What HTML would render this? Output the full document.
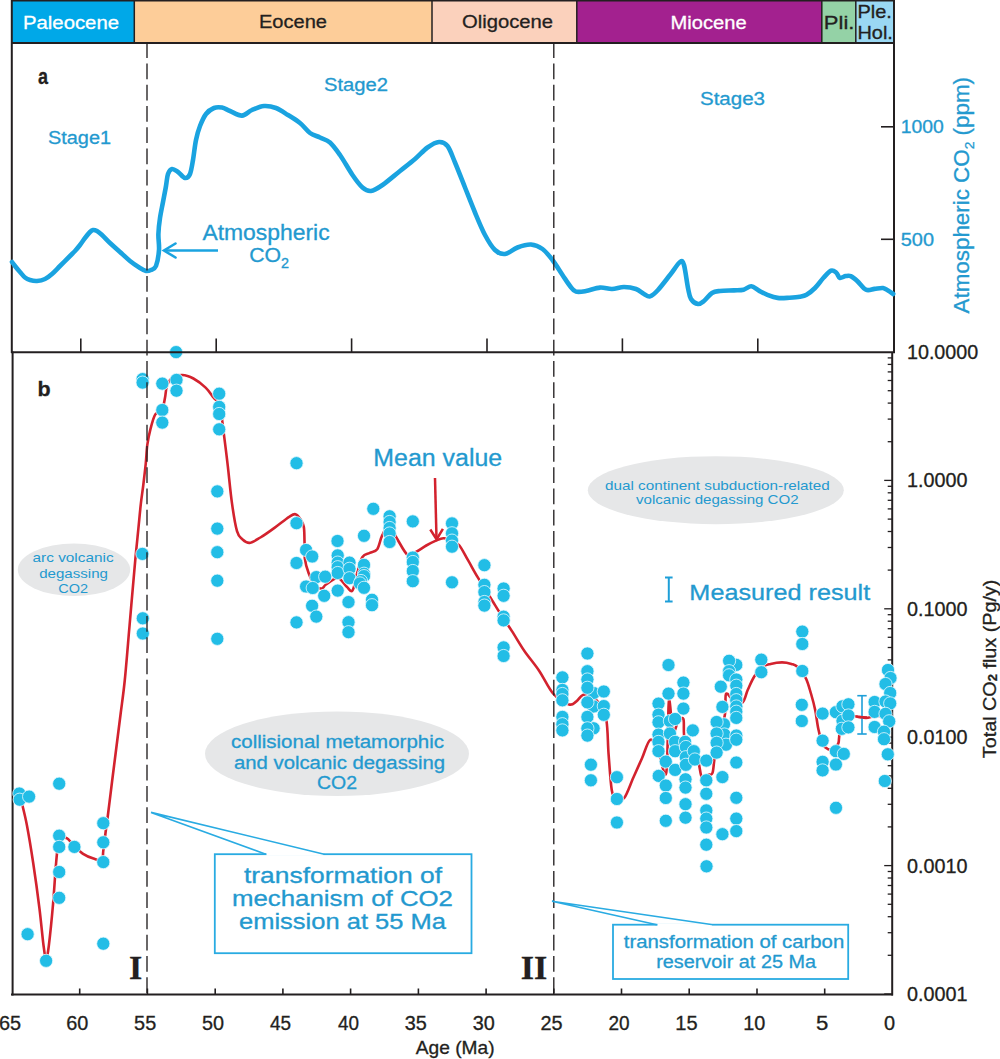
<!DOCTYPE html>
<html><head><meta charset="utf-8"><title>CO2 flux figure</title>
<style>html,body{margin:0;padding:0;background:#fff;overflow:hidden;}svg{display:block;}</style>
</head><body>
<svg width="1000" height="1059" viewBox="0 0 1000 1059">
<rect x="0" y="0" width="1000" height="1059" fill="#ffffff"/>
<rect x="11.5" y="0" width="122.8" height="43" fill="#00A8E8"/>
<rect x="134.3" y="0" width="297.7" height="43" fill="#FDCD99"/>
<rect x="432.0" y="0" width="144.8" height="43" fill="#FBD1BC"/>
<rect x="576.8" y="0" width="245.0" height="43" fill="#A3218F"/>
<rect x="821.8" y="0" width="34.0" height="43" fill="#94D2A6"/>
<rect x="855.8" y="0" width="38.2" height="43" fill="#9AD8F3"/>
<line x1="134.3" y1="0" x2="134.3" y2="43" stroke="#231F20" stroke-width="1.5"/>
<line x1="432.0" y1="0" x2="432.0" y2="43" stroke="#231F20" stroke-width="1.5"/>
<line x1="576.8" y1="0" x2="576.8" y2="43" stroke="#231F20" stroke-width="1.5"/>
<line x1="821.8" y1="0" x2="821.8" y2="43" stroke="#231F20" stroke-width="1.5"/>
<line x1="855.8" y1="0" x2="855.8" y2="43" stroke="#231F20" stroke-width="1.5"/>
<line x1="11" y1="0.6" x2="895" y2="0.6" stroke="#231F20" stroke-width="1.6"/>
<line x1="11" y1="43" x2="895" y2="43" stroke="#231F20" stroke-width="2"/>
<text x="22.98" y="28.50" font-size="19.10" fill="#FFFFFF" stroke="#FFFFFF" stroke-width="0.3" font-weight="normal" font-family="'Liberation Sans', Arial, Helvetica, sans-serif" textLength="96.04" lengthAdjust="spacingAndGlyphs">Paleocene</text>
<text x="258.97" y="28.20" font-size="19.10" fill="#231F20" stroke="#231F20" stroke-width="0.3" font-weight="normal" font-family="'Liberation Sans', Arial, Helvetica, sans-serif" textLength="68.06" lengthAdjust="spacingAndGlyphs">Eocene</text>
<text x="461.99" y="28.30" font-size="19.10" fill="#231F20" stroke="#231F20" stroke-width="0.3" font-weight="normal" font-family="'Liberation Sans', Arial, Helvetica, sans-serif" textLength="91.02" lengthAdjust="spacingAndGlyphs">Oligocene</text>
<text x="670.58" y="28.60" font-size="19.10" fill="#FFFFFF" stroke="#FFFFFF" stroke-width="0.3" font-weight="normal" font-family="'Liberation Sans', Arial, Helvetica, sans-serif" textLength="76.03" lengthAdjust="spacingAndGlyphs">Miocene</text>
<text x="823.81" y="28.70" font-size="18.80" fill="#231F20" stroke="#231F20" stroke-width="0.3" font-weight="normal" font-family="'Liberation Sans', Arial, Helvetica, sans-serif" textLength="30.61" lengthAdjust="spacingAndGlyphs">Pli.</text>
<text x="857.46" y="18.40" font-size="17.80" fill="#231F20" stroke="#231F20" stroke-width="0.3" font-weight="normal" font-family="'Liberation Sans', Arial, Helvetica, sans-serif" textLength="34.44" lengthAdjust="spacingAndGlyphs">Ple.</text>
<text x="857.46" y="39.40" font-size="17.80" fill="#231F20" stroke="#231F20" stroke-width="0.3" font-weight="normal" font-family="'Liberation Sans', Arial, Helvetica, sans-serif" textLength="35.43" lengthAdjust="spacingAndGlyphs">Hol.</text>
<line x1="11.8" y1="0" x2="11.8" y2="353" stroke="#231F20" stroke-width="2"/>
<line x1="12.6" y1="351.5" x2="12.6" y2="995.5" stroke="#231F20" stroke-width="2"/>
<line x1="894" y1="0" x2="894" y2="353" stroke="#231F20" stroke-width="2"/>
<line x1="80.8" y1="338.4" x2="80.8" y2="352" stroke="#231F20" stroke-width="1.6"/>
<line x1="216.2" y1="338.4" x2="216.2" y2="352" stroke="#231F20" stroke-width="1.6"/>
<line x1="351.6" y1="338.4" x2="351.6" y2="352" stroke="#231F20" stroke-width="1.6"/>
<line x1="487.0" y1="338.4" x2="487.0" y2="352" stroke="#231F20" stroke-width="1.6"/>
<line x1="622.4" y1="338.4" x2="622.4" y2="352" stroke="#231F20" stroke-width="1.6"/>
<line x1="757.8" y1="338.4" x2="757.8" y2="352" stroke="#231F20" stroke-width="1.6"/>
<line x1="881" y1="126.8" x2="894" y2="126.8" stroke="#231F20" stroke-width="1.6"/>
<line x1="881" y1="239.3" x2="894" y2="239.3" stroke="#231F20" stroke-width="1.6"/>
<text x="38.00" y="84.00" font-size="22.00" fill="#231F20" stroke="#231F20" stroke-width="0.3" font-weight="bold" font-family="'Liberation Sans', Arial, Helvetica, sans-serif" textLength="10.00" lengthAdjust="spacingAndGlyphs">a</text>
<text x="47.96" y="143.80" font-size="18.70" fill="#2399CF" stroke="#2399CF" stroke-width="0.3" font-weight="normal" font-family="'Liberation Sans', Arial, Helvetica, sans-serif" textLength="63.08" lengthAdjust="spacingAndGlyphs">Stage1</text>
<text x="323.98" y="90.50" font-size="18.70" fill="#2399CF" stroke="#2399CF" stroke-width="0.3" font-weight="normal" font-family="'Liberation Sans', Arial, Helvetica, sans-serif" textLength="64.04" lengthAdjust="spacingAndGlyphs">Stage2</text>
<text x="699.97" y="104.50" font-size="18.70" fill="#2399CF" stroke="#2399CF" stroke-width="0.3" font-weight="normal" font-family="'Liberation Sans', Arial, Helvetica, sans-serif" textLength="65.07" lengthAdjust="spacingAndGlyphs">Stage3</text>
<text x="900.76" y="133.40" font-size="18.30" fill="#2399CF" stroke="#2399CF" stroke-width="0.3" font-weight="normal" font-family="'Liberation Sans', Arial, Helvetica, sans-serif" textLength="43.07" lengthAdjust="spacingAndGlyphs">1000</text>
<text x="900.79" y="245.80" font-size="18.30" fill="#2399CF" stroke="#2399CF" stroke-width="0.3" font-weight="normal" font-family="'Liberation Sans', Arial, Helvetica, sans-serif" textLength="33.25" lengthAdjust="spacingAndGlyphs">500</text>
<g transform="rotate(-90)"><text x="-313.40" y="969.00" font-size="21.50" fill="#2399CF" stroke="#2399CF" stroke-width="0.3" font-weight="normal" font-family="'Liberation Sans', Arial, Helvetica, sans-serif" textLength="236.41" lengthAdjust="spacingAndGlyphs">Atmospheric CO<tspan font-size="0.62em" dy="4.5">2</tspan><tspan dy="-4.5"> (ppm)</tspan></text></g>
<path d="M12.0,262.0 C12.5,262.7 13.7,264.3 15.0,266.0 C16.3,267.7 18.3,270.1 20.0,272.0 C21.7,273.9 23.3,276.2 25.0,277.5 C26.7,278.8 28.0,279.4 30.0,280.0 C32.0,280.6 34.5,281.2 37.0,281.0 C39.5,280.8 42.5,280.2 45.0,279.0 C47.5,277.8 49.5,276.2 52.0,274.0 C54.5,271.8 57.0,269.0 60.0,266.0 C63.0,263.0 67.5,258.5 70.0,256.0 C72.5,253.5 73.3,252.8 75.0,251.0 C76.7,249.2 78.3,247.2 80.0,245.0 C81.7,242.8 83.3,240.2 85.0,238.0 C86.7,235.8 88.7,233.3 90.0,232.0 C91.3,230.7 91.8,230.2 93.0,230.0 C94.2,229.8 95.5,230.2 97.0,231.0 C98.5,231.8 99.8,233.0 102.0,235.0 C104.2,237.0 107.0,240.2 110.0,243.0 C113.0,245.8 116.7,249.0 120.0,252.0 C123.3,255.0 126.7,258.3 130.0,261.0 C133.3,263.7 137.3,266.3 140.0,268.0 C142.7,269.7 144.2,270.7 146.0,271.0 C147.8,271.3 149.3,270.8 151.0,270.0 C152.7,269.2 154.7,269.3 156.0,266.0 C157.3,262.7 158.6,255.3 159.0,250.0 C159.4,244.7 158.2,239.3 158.4,234.0 C158.6,228.7 159.2,223.3 160.0,218.0 C160.8,212.7 162.0,207.3 163.0,202.0 C164.0,196.7 165.2,190.7 166.0,186.0 C166.8,181.3 167.0,176.8 168.0,174.0 C169.0,171.2 170.3,169.3 172.0,169.0 C173.7,168.7 175.8,170.5 178.0,172.0 C180.2,173.5 183.0,177.7 185.0,178.0 C187.0,178.3 188.7,177.0 190.0,174.0 C191.3,171.0 192.0,165.7 193.0,160.0 C194.0,154.3 194.8,145.7 196.0,140.0 C197.2,134.3 198.3,130.3 200.0,126.0 C201.7,121.7 203.7,117.0 206.0,114.0 C208.3,111.0 211.3,109.1 214.0,108.0 C216.7,106.9 219.3,107.1 222.0,107.6 C224.7,108.1 226.7,109.7 230.0,111.0 C233.3,112.3 238.3,115.8 242.0,115.6 C245.7,115.4 248.3,111.6 252.0,110.0 C255.7,108.4 260.0,106.3 264.0,106.0 C268.0,105.7 272.0,106.5 276.0,108.0 C280.0,109.5 284.0,112.5 288.0,115.0 C292.0,117.5 296.3,120.0 300.0,123.0 C303.7,126.0 306.7,130.6 310.0,133.0 C313.3,135.4 316.7,135.9 320.0,137.5 C323.3,139.1 326.7,139.6 330.0,142.5 C333.3,145.4 336.2,149.6 340.0,155.0 C343.8,160.4 348.8,169.6 352.5,175.0 C356.2,180.4 359.4,184.8 362.5,187.5 C365.6,190.2 367.7,191.4 371.0,191.0 C374.3,190.6 377.7,188.3 382.5,185.0 C387.3,181.7 394.6,175.3 400.0,171.0 C405.4,166.7 410.4,162.9 415.0,159.0 C419.6,155.1 423.5,150.3 427.5,147.5 C431.5,144.7 435.7,142.2 439.0,142.0 C442.3,141.8 444.8,142.6 447.5,146.0 C450.2,149.4 452.1,155.6 455.0,162.5 C457.9,169.4 461.7,179.2 465.0,187.5 C468.3,195.8 471.7,204.6 475.0,212.5 C478.3,220.4 481.7,228.8 485.0,235.0 C488.3,241.2 491.7,246.8 495.0,250.0 C498.3,253.2 501.2,254.4 505.0,254.0 C508.8,253.6 513.2,249.1 517.5,247.5 C521.8,245.9 526.8,244.2 531.0,244.5 C535.2,244.8 538.9,246.4 542.5,249.0 C546.1,251.6 549.2,255.7 552.5,260.0 C555.8,264.3 559.6,270.7 562.5,275.0 C565.4,279.3 567.8,283.2 570.0,286.0 C572.2,288.8 573.3,290.8 576.0,291.6 C578.7,292.4 582.0,291.7 586.0,291.0 C590.0,290.3 595.7,287.9 600.0,287.6 C604.3,287.3 608.0,289.1 612.0,289.0 C616.0,288.9 620.0,287.0 624.0,287.0 C628.0,287.0 632.7,287.8 636.0,289.0 C639.3,290.2 641.7,292.8 644.0,294.0 C646.3,295.2 647.7,297.1 650.0,296.4 C652.3,295.7 654.7,293.6 658.0,290.0 C661.3,286.4 666.3,279.7 670.0,275.0 C673.7,270.3 677.7,263.7 680.0,262.0 C682.3,260.3 682.7,260.7 684.0,265.0 C685.3,269.3 686.8,282.3 688.0,288.0 C689.2,293.7 689.3,296.3 691.0,299.0 C692.7,301.7 695.8,303.7 698.0,304.0 C700.2,304.3 701.7,302.8 704.0,301.0 C706.3,299.2 709.3,294.7 712.0,293.0 C714.7,291.3 716.3,291.4 720.0,291.0 C723.7,290.6 730.1,290.6 734.0,290.4 C737.9,290.2 740.7,290.4 743.6,289.7 C746.5,289.0 748.8,286.1 751.3,286.3 C753.8,286.5 756.2,289.2 758.9,290.6 C761.6,292.0 764.3,293.6 767.4,294.8 C770.5,296.0 773.9,297.4 777.6,297.9 C781.3,298.4 785.8,297.9 789.5,297.7 C793.2,297.5 796.9,297.3 799.7,296.8 C802.5,296.3 804.0,296.3 806.5,294.8 C809.0,293.3 812.2,290.8 815.0,288.0 C817.8,285.2 820.8,280.7 823.5,277.8 C826.2,274.9 828.9,271.6 831.0,270.7 C833.1,269.8 834.8,271.5 836.3,272.7 C837.8,273.9 838.2,277.2 839.7,277.8 C841.2,278.4 843.8,276.4 845.6,276.1 C847.4,275.8 848.7,275.2 850.7,276.1 C852.7,277.0 855.0,278.9 857.5,281.2 C860.0,283.5 863.2,288.4 866.0,289.7 C868.8,291.0 871.7,289.2 874.5,288.9 C877.3,288.6 880.8,287.7 883.0,288.0 C885.2,288.3 886.3,289.6 888.0,290.6 C889.7,291.6 892.3,293.4 893.2,294.0" fill="none" stroke="#1AA3E0" stroke-width="4.6" stroke-linejoin="round" stroke-linecap="round"/>
<line x1="164" y1="250.5" x2="218" y2="250.5" stroke="#1AA3E0" stroke-width="2.6"/>
<polyline points="175.5,243.5 164,250.5 175.5,257.5" fill="none" stroke="#1AA3E0" stroke-width="2.6" stroke-linecap="round" stroke-linejoin="miter"/>
<text x="202.40" y="239.50" font-size="21.40" fill="#2399CF" stroke="#2399CF" stroke-width="0.3" font-weight="normal" font-family="'Liberation Sans', Arial, Helvetica, sans-serif" textLength="127.20" lengthAdjust="spacingAndGlyphs">Atmospheric</text>
<text x="249.15" y="262.30" font-size="21.00" fill="#2399CF" stroke="#2399CF" stroke-width="0.3" font-weight="normal" font-family="'Liberation Sans', Arial, Helvetica, sans-serif" textLength="39.88" lengthAdjust="spacingAndGlyphs">CO<tspan font-size="0.68em" dy="5.6">2</tspan></text>
<line x1="11" y1="994.5" x2="893" y2="994.5" stroke="#231F20" stroke-width="2.2"/>
<line x1="892.2" y1="352" x2="892.2" y2="995.5" stroke="#231F20" stroke-width="2"/>
<line x1="79.7" y1="988.5" x2="79.7" y2="994" stroke="#231F20" stroke-width="1.6"/>
<line x1="147.4" y1="988.5" x2="147.4" y2="994" stroke="#231F20" stroke-width="1.6"/>
<line x1="215.2" y1="988.5" x2="215.2" y2="994" stroke="#231F20" stroke-width="1.6"/>
<line x1="282.9" y1="988.5" x2="282.9" y2="994" stroke="#231F20" stroke-width="1.6"/>
<line x1="350.6" y1="988.5" x2="350.6" y2="994" stroke="#231F20" stroke-width="1.6"/>
<line x1="418.4" y1="988.5" x2="418.4" y2="994" stroke="#231F20" stroke-width="1.6"/>
<line x1="486.1" y1="988.5" x2="486.1" y2="994" stroke="#231F20" stroke-width="1.6"/>
<line x1="553.8" y1="988.5" x2="553.8" y2="994" stroke="#231F20" stroke-width="1.6"/>
<line x1="621.5" y1="988.5" x2="621.5" y2="994" stroke="#231F20" stroke-width="1.6"/>
<line x1="689.2" y1="988.5" x2="689.2" y2="994" stroke="#231F20" stroke-width="1.6"/>
<line x1="757.0" y1="988.5" x2="757.0" y2="994" stroke="#231F20" stroke-width="1.6"/>
<line x1="824.7" y1="988.5" x2="824.7" y2="994" stroke="#231F20" stroke-width="1.6"/>
<line x1="884.2" y1="994.0" x2="892.2" y2="994.0" stroke="#231F20" stroke-width="1.3"/>
<line x1="887.7" y1="955.3" x2="892.2" y2="955.3" stroke="#231F20" stroke-width="1.3"/>
<line x1="887.7" y1="932.7" x2="892.2" y2="932.7" stroke="#231F20" stroke-width="1.3"/>
<line x1="887.7" y1="916.7" x2="892.2" y2="916.7" stroke="#231F20" stroke-width="1.3"/>
<line x1="887.7" y1="904.3" x2="892.2" y2="904.3" stroke="#231F20" stroke-width="1.3"/>
<line x1="887.7" y1="894.1" x2="892.2" y2="894.1" stroke="#231F20" stroke-width="1.3"/>
<line x1="887.7" y1="885.5" x2="892.2" y2="885.5" stroke="#231F20" stroke-width="1.3"/>
<line x1="887.7" y1="878.0" x2="892.2" y2="878.0" stroke="#231F20" stroke-width="1.3"/>
<line x1="887.7" y1="871.5" x2="892.2" y2="871.5" stroke="#231F20" stroke-width="1.3"/>
<line x1="884.2" y1="865.6" x2="892.2" y2="865.6" stroke="#231F20" stroke-width="1.3"/>
<line x1="887.7" y1="826.9" x2="892.2" y2="826.9" stroke="#231F20" stroke-width="1.3"/>
<line x1="887.7" y1="804.3" x2="892.2" y2="804.3" stroke="#231F20" stroke-width="1.3"/>
<line x1="887.7" y1="788.3" x2="892.2" y2="788.3" stroke="#231F20" stroke-width="1.3"/>
<line x1="887.7" y1="775.9" x2="892.2" y2="775.9" stroke="#231F20" stroke-width="1.3"/>
<line x1="887.7" y1="765.7" x2="892.2" y2="765.7" stroke="#231F20" stroke-width="1.3"/>
<line x1="887.7" y1="757.1" x2="892.2" y2="757.1" stroke="#231F20" stroke-width="1.3"/>
<line x1="887.7" y1="749.6" x2="892.2" y2="749.6" stroke="#231F20" stroke-width="1.3"/>
<line x1="887.7" y1="743.1" x2="892.2" y2="743.1" stroke="#231F20" stroke-width="1.3"/>
<line x1="884.2" y1="737.2" x2="892.2" y2="737.2" stroke="#231F20" stroke-width="1.3"/>
<line x1="887.7" y1="698.5" x2="892.2" y2="698.5" stroke="#231F20" stroke-width="1.3"/>
<line x1="887.7" y1="675.9" x2="892.2" y2="675.9" stroke="#231F20" stroke-width="1.3"/>
<line x1="887.7" y1="659.9" x2="892.2" y2="659.9" stroke="#231F20" stroke-width="1.3"/>
<line x1="887.7" y1="647.5" x2="892.2" y2="647.5" stroke="#231F20" stroke-width="1.3"/>
<line x1="887.7" y1="637.3" x2="892.2" y2="637.3" stroke="#231F20" stroke-width="1.3"/>
<line x1="887.7" y1="628.7" x2="892.2" y2="628.7" stroke="#231F20" stroke-width="1.3"/>
<line x1="887.7" y1="621.2" x2="892.2" y2="621.2" stroke="#231F20" stroke-width="1.3"/>
<line x1="887.7" y1="614.7" x2="892.2" y2="614.7" stroke="#231F20" stroke-width="1.3"/>
<line x1="884.2" y1="608.8" x2="892.2" y2="608.8" stroke="#231F20" stroke-width="1.3"/>
<line x1="887.7" y1="570.1" x2="892.2" y2="570.1" stroke="#231F20" stroke-width="1.3"/>
<line x1="887.7" y1="547.5" x2="892.2" y2="547.5" stroke="#231F20" stroke-width="1.3"/>
<line x1="887.7" y1="531.5" x2="892.2" y2="531.5" stroke="#231F20" stroke-width="1.3"/>
<line x1="887.7" y1="519.1" x2="892.2" y2="519.1" stroke="#231F20" stroke-width="1.3"/>
<line x1="887.7" y1="508.9" x2="892.2" y2="508.9" stroke="#231F20" stroke-width="1.3"/>
<line x1="887.7" y1="500.3" x2="892.2" y2="500.3" stroke="#231F20" stroke-width="1.3"/>
<line x1="887.7" y1="492.8" x2="892.2" y2="492.8" stroke="#231F20" stroke-width="1.3"/>
<line x1="887.7" y1="486.3" x2="892.2" y2="486.3" stroke="#231F20" stroke-width="1.3"/>
<line x1="884.2" y1="480.4" x2="892.2" y2="480.4" stroke="#231F20" stroke-width="1.3"/>
<line x1="887.7" y1="441.7" x2="892.2" y2="441.7" stroke="#231F20" stroke-width="1.3"/>
<line x1="887.7" y1="419.1" x2="892.2" y2="419.1" stroke="#231F20" stroke-width="1.3"/>
<line x1="887.7" y1="403.1" x2="892.2" y2="403.1" stroke="#231F20" stroke-width="1.3"/>
<line x1="887.7" y1="390.7" x2="892.2" y2="390.7" stroke="#231F20" stroke-width="1.3"/>
<line x1="887.7" y1="380.5" x2="892.2" y2="380.5" stroke="#231F20" stroke-width="1.3"/>
<line x1="887.7" y1="371.9" x2="892.2" y2="371.9" stroke="#231F20" stroke-width="1.3"/>
<line x1="887.7" y1="364.4" x2="892.2" y2="364.4" stroke="#231F20" stroke-width="1.3"/>
<line x1="887.7" y1="357.9" x2="892.2" y2="357.9" stroke="#231F20" stroke-width="1.3"/>
<text x="-1.07" y="1030.30" font-size="19.30" fill="#231F20" stroke="#231F20" stroke-width="0.3" font-weight="normal" font-family="'Liberation Sans', Arial, Helvetica, sans-serif" textLength="22.13" lengthAdjust="spacingAndGlyphs">65</text>
<text x="66.23" y="1030.30" font-size="19.30" fill="#231F20" stroke="#231F20" stroke-width="0.3" font-weight="normal" font-family="'Liberation Sans', Arial, Helvetica, sans-serif" textLength="22.13" lengthAdjust="spacingAndGlyphs">60</text>
<text x="134.10" y="1030.30" font-size="19.30" fill="#231F20" stroke="#231F20" stroke-width="0.3" font-weight="normal" font-family="'Liberation Sans', Arial, Helvetica, sans-serif" textLength="22.13" lengthAdjust="spacingAndGlyphs">55</text>
<text x="202.05" y="1030.30" font-size="19.30" fill="#231F20" stroke="#231F20" stroke-width="0.3" font-weight="normal" font-family="'Liberation Sans', Arial, Helvetica, sans-serif" textLength="22.08" lengthAdjust="spacingAndGlyphs">50</text>
<text x="269.96" y="1030.30" font-size="19.30" fill="#231F20" stroke="#231F20" stroke-width="0.3" font-weight="normal" font-family="'Liberation Sans', Arial, Helvetica, sans-serif" textLength="21.08" lengthAdjust="spacingAndGlyphs">45</text>
<text x="337.90" y="1030.30" font-size="19.30" fill="#231F20" stroke="#231F20" stroke-width="0.3" font-weight="normal" font-family="'Liberation Sans', Arial, Helvetica, sans-serif" textLength="21.03" lengthAdjust="spacingAndGlyphs">40</text>
<text x="404.75" y="1030.30" font-size="19.30" fill="#231F20" stroke="#231F20" stroke-width="0.3" font-weight="normal" font-family="'Liberation Sans', Arial, Helvetica, sans-serif" textLength="22.08" lengthAdjust="spacingAndGlyphs">35</text>
<text x="472.66" y="1030.30" font-size="19.30" fill="#231F20" stroke="#231F20" stroke-width="0.3" font-weight="normal" font-family="'Liberation Sans', Arial, Helvetica, sans-serif" textLength="22.08" lengthAdjust="spacingAndGlyphs">30</text>
<text x="540.54" y="1030.30" font-size="19.30" fill="#231F20" stroke="#231F20" stroke-width="0.3" font-weight="normal" font-family="'Liberation Sans', Arial, Helvetica, sans-serif" textLength="22.13" lengthAdjust="spacingAndGlyphs">25</text>
<text x="608.41" y="1030.30" font-size="19.30" fill="#231F20" stroke="#231F20" stroke-width="0.3" font-weight="normal" font-family="'Liberation Sans', Arial, Helvetica, sans-serif" textLength="21.13" lengthAdjust="spacingAndGlyphs">20</text>
<text x="675.24" y="1030.30" font-size="19.30" fill="#231F20" stroke="#231F20" stroke-width="0.3" font-weight="normal" font-family="'Liberation Sans', Arial, Helvetica, sans-serif" textLength="22.30" lengthAdjust="spacingAndGlyphs">15</text>
<text x="743.24" y="1030.30" font-size="19.30" fill="#231F20" stroke="#231F20" stroke-width="0.3" font-weight="normal" font-family="'Liberation Sans', Arial, Helvetica, sans-serif" textLength="22.13" lengthAdjust="spacingAndGlyphs">10</text>
<text x="815.99" y="1030.30" font-size="19.30" fill="#231F20" stroke="#231F20" stroke-width="0.3" font-weight="normal" font-family="'Liberation Sans', Arial, Helvetica, sans-serif" textLength="12.35" lengthAdjust="spacingAndGlyphs">5</text>
<text x="883.99" y="1030.30" font-size="19.30" fill="#231F20" stroke="#231F20" stroke-width="0.3" font-weight="normal" font-family="'Liberation Sans', Arial, Helvetica, sans-serif" textLength="11.11" lengthAdjust="spacingAndGlyphs">0</text>
<text x="906.98" y="358.90" font-size="19.40" fill="#231F20" stroke="#231F20" stroke-width="0.3" font-weight="normal" font-family="'Liberation Sans', Arial, Helvetica, sans-serif" textLength="71.24" lengthAdjust="spacingAndGlyphs">10.0000</text>
<text x="906.97" y="487.30" font-size="19.40" fill="#231F20" stroke="#231F20" stroke-width="0.3" font-weight="normal" font-family="'Liberation Sans', Arial, Helvetica, sans-serif" textLength="60.46" lengthAdjust="spacingAndGlyphs">1.0000</text>
<text x="906.97" y="615.70" font-size="19.40" fill="#231F20" stroke="#231F20" stroke-width="0.3" font-weight="normal" font-family="'Liberation Sans', Arial, Helvetica, sans-serif" textLength="60.46" lengthAdjust="spacingAndGlyphs">0.1000</text>
<text x="906.97" y="744.10" font-size="19.40" fill="#231F20" stroke="#231F20" stroke-width="0.3" font-weight="normal" font-family="'Liberation Sans', Arial, Helvetica, sans-serif" textLength="60.46" lengthAdjust="spacingAndGlyphs">0.0100</text>
<text x="906.97" y="872.50" font-size="19.40" fill="#231F20" stroke="#231F20" stroke-width="0.3" font-weight="normal" font-family="'Liberation Sans', Arial, Helvetica, sans-serif" textLength="60.46" lengthAdjust="spacingAndGlyphs">0.0010</text>
<text x="906.97" y="1000.90" font-size="19.40" fill="#231F20" stroke="#231F20" stroke-width="0.3" font-weight="normal" font-family="'Liberation Sans', Arial, Helvetica, sans-serif" textLength="60.46" lengthAdjust="spacingAndGlyphs">0.0001</text>
<text x="415.79" y="1054.30" font-size="18.20" fill="#231F20" stroke="#231F20" stroke-width="0.3" font-weight="normal" font-family="'Liberation Sans', Arial, Helvetica, sans-serif" textLength="78.84" lengthAdjust="spacingAndGlyphs">Age (Ma)</text>
<g transform="rotate(-90)"><text x="-758.20" y="995.80" font-size="19.20" fill="#231F20" stroke="#231F20" stroke-width="0.3" font-weight="normal" font-family="'Liberation Sans', Arial, Helvetica, sans-serif" textLength="178.61" lengthAdjust="spacingAndGlyphs">Total CO<tspan font-size="0.65em" font-weight="bold" dy="1.5">2</tspan><tspan dy="-1.5"> flux (Pg/y)</tspan></text></g>
<text x="37.48" y="396.00" font-size="21.00" fill="#231F20" stroke="#231F20" stroke-width="0.3" font-weight="bold" font-family="'Liberation Sans', Arial, Helvetica, sans-serif" textLength="13.13" lengthAdjust="spacingAndGlyphs">b</text>
<ellipse cx="74" cy="569.8" rx="56.2" ry="26.3" fill="#E6E7E8"/>
<ellipse cx="337" cy="753.7" rx="132" ry="42.3" fill="#E6E7E8"/>
<ellipse cx="715.8" cy="490.2" rx="128" ry="34" fill="#E6E7E8"/>
<text x="32.59" y="561.60" font-size="12.60" fill="#2399CF" stroke="#2399CF" stroke-width="0" font-weight="normal" font-family="'Liberation Sans', Arial, Helvetica, sans-serif" textLength="81.01" lengthAdjust="spacingAndGlyphs">arc volcanic</text>
<text x="39.19" y="577.50" font-size="12.60" fill="#2399CF" stroke="#2399CF" stroke-width="0" font-weight="normal" font-family="'Liberation Sans', Arial, Helvetica, sans-serif" textLength="68.82" lengthAdjust="spacingAndGlyphs">degassing</text>
<text x="58.19" y="592.60" font-size="12.60" fill="#2399CF" stroke="#2399CF" stroke-width="0" font-weight="normal" font-family="'Liberation Sans', Arial, Helvetica, sans-serif" textLength="29.81" lengthAdjust="spacingAndGlyphs">CO2</text>
<text x="230.99" y="748.40" font-size="18.80" fill="#2399CF" stroke="#2399CF" stroke-width="0.3" font-weight="normal" font-family="'Liberation Sans', Arial, Helvetica, sans-serif" textLength="213.01" lengthAdjust="spacingAndGlyphs">collisional metamorphic</text>
<text x="233.99" y="768.70" font-size="18.80" fill="#2399CF" stroke="#2399CF" stroke-width="0.3" font-weight="normal" font-family="'Liberation Sans', Arial, Helvetica, sans-serif" textLength="211.03" lengthAdjust="spacingAndGlyphs">and volcanic degassing</text>
<text x="316.97" y="789.20" font-size="18.80" fill="#2399CF" stroke="#2399CF" stroke-width="0.3" font-weight="normal" font-family="'Liberation Sans', Arial, Helvetica, sans-serif" textLength="40.05" lengthAdjust="spacingAndGlyphs">CO2</text>
<text x="605.00" y="489.70" font-size="13.50" fill="#2399CF" stroke="#2399CF" stroke-width="0" font-weight="normal" font-family="'Liberation Sans', Arial, Helvetica, sans-serif" textLength="224.80" lengthAdjust="spacingAndGlyphs">dual continent subduction-related</text>
<text x="636.00" y="503.80" font-size="13.50" fill="#2399CF" stroke="#2399CF" stroke-width="0" font-weight="normal" font-family="'Liberation Sans', Arial, Helvetica, sans-serif" textLength="162.60" lengthAdjust="spacingAndGlyphs">volcanic degassing CO2</text>
<path d="M21.8,802.9 C22.7,806.7 25.1,815.7 27.0,825.7 C28.9,835.7 31.1,849.1 33.2,863.0 C35.3,876.9 37.8,895.0 39.5,908.8 C41.2,922.6 42.5,937.7 43.6,946.0 C44.7,954.3 45.2,958.7 46.1,958.7 C47.0,958.7 47.6,955.0 48.8,946.0 C49.9,937.0 51.8,918.5 53.0,904.7 C54.2,890.9 55.1,873.8 56.1,863.0 C57.1,852.2 57.5,844.2 59.2,840.0 C60.9,835.8 64.1,837.1 66.5,838.0 C68.9,838.9 71.0,842.9 73.8,845.5 C76.6,848.1 79.8,851.6 83.1,853.8 C86.4,856.0 90.4,857.5 93.5,858.5 C96.6,859.5 100.2,861.3 101.8,860.0 C103.4,858.7 102.7,855.1 103.3,850.6 C103.9,846.1 104.8,838.8 105.5,833.0 C106.2,827.2 106.7,824.5 107.8,816.0 C108.9,807.5 110.6,793.3 112.0,782.0 C113.4,770.7 114.9,759.3 116.3,748.0 C117.7,736.7 119.2,725.3 120.6,714.0 C122.0,702.7 123.3,694.8 124.8,680.0 C126.3,665.2 128.0,643.4 129.6,625.0 C131.2,606.6 133.3,581.9 134.4,569.8 C135.5,557.7 135.3,559.3 136.0,552.4 C136.7,545.5 137.6,536.3 138.4,528.3 C139.2,520.3 140.0,511.4 140.8,504.2 C141.6,497.0 142.5,491.7 143.3,485.0 C144.1,478.3 145.0,470.9 145.7,464.2 C146.4,457.5 146.5,450.8 147.3,444.9 C148.1,439.0 149.2,434.0 150.5,428.9 C151.8,423.8 153.4,417.5 155.3,414.4 C157.2,411.2 160.3,412.8 161.9,410.0 C163.5,407.2 164.2,401.9 165.0,397.8 C165.8,393.7 165.8,388.9 167.0,385.6 C168.2,382.3 169.5,379.8 172.0,378.0 C174.5,376.2 178.6,374.9 182.2,375.0 C185.8,375.1 189.5,376.4 193.4,378.5 C197.3,380.6 202.2,384.4 205.6,387.6 C209.0,390.8 211.3,394.7 213.7,397.8 C216.1,400.9 218.1,399.9 219.8,406.0 C221.5,412.1 222.6,424.2 223.9,434.3 C225.2,444.4 226.6,455.3 227.9,466.8 C229.2,478.3 230.5,492.7 232.0,503.4 C233.5,514.1 235.3,525.2 237.0,531.2 C238.7,537.2 240.3,537.3 242.4,539.3 C244.5,541.2 246.6,543.2 249.6,542.9 C252.6,542.6 256.2,540.0 260.4,537.5 C264.6,535.0 270.0,531.1 274.8,527.6 C279.6,524.1 285.8,519.0 289.2,516.8 C292.6,514.6 293.5,513.8 295.4,514.2 C297.2,514.6 298.9,516.9 300.3,519.0 C301.7,521.1 303.1,523.2 303.8,526.8 C304.5,530.4 304.3,535.5 304.5,540.8 C304.7,546.1 304.1,553.0 304.8,558.4 C305.5,563.8 306.9,568.5 308.6,573.0 C310.3,577.5 312.6,582.9 314.8,585.5 C317.0,588.1 319.9,588.7 321.8,588.5 C323.7,588.3 323.4,586.2 326.0,584.5 C328.6,582.8 334.3,577.7 337.7,578.0 C341.1,578.3 344.0,584.4 346.5,586.5 C349.0,588.6 350.7,592.9 352.5,590.5 C354.3,588.1 355.8,577.6 357.5,572.0 C359.2,566.4 360.4,560.2 362.5,557.0 C364.6,553.8 367.4,554.2 369.8,552.9 C372.2,551.6 375.1,552.1 377.2,549.2 C379.2,546.3 380.1,539.7 382.1,535.7 C384.1,531.7 386.6,524.6 389.0,525.0 C391.4,525.4 393.7,533.2 396.8,538.2 C399.9,543.2 404.6,553.0 407.9,555.3 C411.2,557.5 413.3,553.3 416.4,551.7 C419.5,550.1 423.0,547.4 426.3,545.5 C429.6,543.6 433.1,541.8 436.0,540.6 C438.9,539.4 440.7,538.3 443.4,538.2 C446.1,538.1 449.3,538.8 452.0,540.0 C454.7,541.2 456.7,542.1 459.4,545.5 C462.1,548.9 464.9,554.9 468.0,560.2 C471.1,565.5 474.1,571.3 477.8,577.4 C481.5,583.5 485.9,590.5 490.0,597.0 C494.1,603.5 498.6,611.0 502.3,616.7 C506.0,622.4 508.4,625.7 512.1,631.4 C515.8,637.1 519.9,644.5 524.4,651.0 C528.9,657.5 534.2,663.5 539.1,670.7 C544.0,677.9 548.5,688.4 553.5,694.0 C558.5,699.6 565.3,703.2 569.1,704.4 C572.9,705.6 574.1,702.8 576.4,701.3 C578.6,699.8 580.3,696.1 582.6,695.1 C584.9,694.1 587.1,693.4 590.0,695.0 C592.9,696.6 597.2,700.6 600.0,705.0 C602.8,709.4 605.1,712.9 606.5,721.1 C607.9,729.3 607.7,742.9 608.6,754.3 C609.5,765.7 610.5,782.4 611.7,789.7 C612.9,797.0 613.9,796.6 616.0,798.0 C618.1,799.4 621.3,801.5 624.2,798.0 C627.1,794.5 630.5,783.8 633.5,777.2 C636.5,770.6 639.1,764.7 641.9,758.5 C644.7,752.3 647.5,741.2 650.2,739.8 C652.9,738.4 655.3,744.5 658.0,750.0 C660.7,755.5 664.4,781.1 666.2,773.0 C668.0,764.9 667.8,708.2 668.9,701.3 C670.0,694.4 671.5,728.0 673.0,731.5 C674.5,735.0 676.3,724.1 678.0,722.0 C679.7,719.9 682.3,716.4 683.4,719.0 C684.5,721.6 683.1,732.5 684.5,737.7 C685.9,742.9 689.8,746.2 692.0,750.0 C694.2,753.8 696.5,756.4 698.0,760.6 C699.5,764.8 700.0,771.2 701.0,775.0 C702.0,778.8 703.0,783.4 704.2,783.4 C705.4,783.4 706.6,776.8 708.0,775.0 C709.4,773.2 711.2,776.7 712.5,772.9 C713.8,769.1 713.5,761.8 715.6,752.1 C717.7,742.4 723.2,724.5 724.9,714.8 C726.6,705.1 724.6,696.5 726.0,694.0 C727.4,691.5 730.2,698.6 733.0,700.0 C735.8,701.4 740.1,704.0 742.6,702.3 C745.1,700.6 745.8,694.1 747.8,689.8 C749.8,685.5 752.0,680.1 754.4,676.3 C756.8,672.5 759.6,669.1 762.3,667.0 C765.0,664.9 767.3,664.7 770.6,663.9 C773.9,663.1 778.5,662.4 782.0,662.4 C785.5,662.4 788.8,663.1 791.4,663.9 C794.0,664.7 795.2,664.6 797.6,667.0 C800.0,669.4 803.6,673.9 805.9,678.4 C808.1,682.9 809.5,688.6 811.1,694.0 C812.7,699.4 814.1,704.7 815.3,710.6 C816.5,716.5 817.2,723.8 818.4,729.3 C819.6,734.8 821.0,740.5 822.5,743.8 C824.0,747.1 826.0,748.1 827.7,749.0 C829.5,749.9 831.3,749.9 833.0,749.0 C834.7,748.1 837.1,745.7 838.1,743.8 C839.1,741.9 838.6,741.8 839.1,737.6 C839.6,733.5 839.5,722.5 841.2,718.9 C842.9,715.3 846.7,716.1 849.5,715.8 C852.3,715.4 855.0,716.4 857.8,716.8 C860.6,717.1 863.2,718.0 866.1,717.9 C869.0,717.8 872.0,716.3 875.0,716.0 C878.0,715.7 881.3,716.0 884.0,716.0 C886.7,716.0 889.8,716.0 891.0,716.0" fill="none" stroke="#D3222E" stroke-width="2.6" stroke-linejoin="round" stroke-linecap="round"/>
<g fill="#22BDE6" stroke="#EAF9FE" stroke-width="0.8">
<circle cx="19.3" cy="793.5" r="6.6"/>
<circle cx="19.7" cy="799.7" r="6.6"/>
<circle cx="29.1" cy="796.6" r="6.6"/>
<circle cx="59.2" cy="783.7" r="6.6"/>
<circle cx="103.3" cy="823.2" r="6.6"/>
<circle cx="59.2" cy="835.7" r="6.6"/>
<circle cx="59.2" cy="846.9" r="6.6"/>
<circle cx="74.4" cy="846.9" r="6.6"/>
<circle cx="103.3" cy="842.3" r="6.6"/>
<circle cx="103.3" cy="862.1" r="6.6"/>
<circle cx="59.2" cy="872.0" r="6.6"/>
<circle cx="59.2" cy="897.8" r="6.6"/>
<circle cx="27.6" cy="934.2" r="6.6"/>
<circle cx="46.1" cy="960.8" r="6.6"/>
<circle cx="103.3" cy="943.7" r="6.6"/>
<circle cx="142.4" cy="553.9" r="6.6"/>
<circle cx="142.8" cy="618.3" r="6.6"/>
<circle cx="142.8" cy="633.5" r="6.6"/>
<circle cx="142.6" cy="379.1" r="6.6"/>
<circle cx="142.6" cy="382.6" r="6.6"/>
<circle cx="176.1" cy="352.1" r="6.6"/>
<circle cx="162.3" cy="383.6" r="6.6"/>
<circle cx="176.5" cy="379.9" r="6.6"/>
<circle cx="176.5" cy="390.7" r="6.6"/>
<circle cx="162.3" cy="410.0" r="6.6"/>
<circle cx="162.3" cy="422.6" r="6.6"/>
<circle cx="219.2" cy="393.7" r="6.6"/>
<circle cx="219.2" cy="406.9" r="6.6"/>
<circle cx="219.2" cy="414.0" r="6.6"/>
<circle cx="219.2" cy="429.3" r="6.6"/>
<circle cx="217.3" cy="491.4" r="6.6"/>
<circle cx="217.3" cy="528.6" r="6.6"/>
<circle cx="217.3" cy="552.2" r="6.6"/>
<circle cx="217.3" cy="580.7" r="6.6"/>
<circle cx="217.3" cy="638.8" r="6.6"/>
<circle cx="296.5" cy="463.2" r="6.6"/>
<circle cx="296.5" cy="523.2" r="6.6"/>
<circle cx="296.5" cy="563.0" r="6.6"/>
<circle cx="296.5" cy="622.4" r="6.6"/>
<circle cx="306.1" cy="550.0" r="6.6"/>
<circle cx="312.2" cy="556.5" r="6.6"/>
<circle cx="316.3" cy="577.1" r="6.6"/>
<circle cx="325.2" cy="576.7" r="6.6"/>
<circle cx="306.1" cy="586.5" r="6.6"/>
<circle cx="312.7" cy="588.0" r="6.6"/>
<circle cx="324.2" cy="595.8" r="6.6"/>
<circle cx="312.1" cy="605.8" r="6.6"/>
<circle cx="316.3" cy="616.6" r="6.6"/>
<circle cx="337.5" cy="541.0" r="6.6"/>
<circle cx="337.7" cy="555.4" r="6.6"/>
<circle cx="337.7" cy="562.6" r="6.6"/>
<circle cx="337.7" cy="567.2" r="6.6"/>
<circle cx="337.7" cy="573.0" r="6.6"/>
<circle cx="337.7" cy="590.6" r="6.6"/>
<circle cx="349.5" cy="562.6" r="6.6"/>
<circle cx="349.5" cy="568.8" r="6.6"/>
<circle cx="349.5" cy="578.2" r="6.6"/>
<circle cx="348.5" cy="602.1" r="6.6"/>
<circle cx="348.5" cy="622.2" r="6.6"/>
<circle cx="348.5" cy="632.2" r="6.6"/>
<circle cx="364.0" cy="535.8" r="6.6"/>
<circle cx="364.0" cy="564.9" r="6.6"/>
<circle cx="364.0" cy="573.7" r="6.6"/>
<circle cx="364.0" cy="576.1" r="6.6"/>
<circle cx="361.0" cy="581.0" r="6.6"/>
<circle cx="359.9" cy="583.4" r="6.6"/>
<circle cx="364.0" cy="587.8" r="6.6"/>
<circle cx="373.3" cy="508.8" r="6.6"/>
<circle cx="372.0" cy="599.8" r="6.6"/>
<circle cx="372.0" cy="605.2" r="6.6"/>
<circle cx="389.6" cy="516.3" r="6.6"/>
<circle cx="389.6" cy="522.0" r="6.6"/>
<circle cx="389.6" cy="528.0" r="6.6"/>
<circle cx="389.6" cy="533.5" r="6.6"/>
<circle cx="389.6" cy="542.0" r="6.6"/>
<circle cx="412.8" cy="521.4" r="6.6"/>
<circle cx="412.8" cy="557.5" r="6.6"/>
<circle cx="412.8" cy="562.0" r="6.6"/>
<circle cx="412.8" cy="571.0" r="6.6"/>
<circle cx="412.8" cy="581.2" r="6.6"/>
<circle cx="452.0" cy="523.4" r="6.6"/>
<circle cx="452.0" cy="533.3" r="6.6"/>
<circle cx="452.0" cy="540.6" r="6.6"/>
<circle cx="452.0" cy="546.7" r="6.6"/>
<circle cx="452.0" cy="582.3" r="6.6"/>
<circle cx="484.4" cy="565.2" r="6.6"/>
<circle cx="484.4" cy="584.8" r="6.6"/>
<circle cx="484.4" cy="592.1" r="6.6"/>
<circle cx="484.4" cy="602.0" r="6.6"/>
<circle cx="484.4" cy="605.6" r="6.6"/>
<circle cx="503.6" cy="588.5" r="6.6"/>
<circle cx="503.6" cy="595.8" r="6.6"/>
<circle cx="503.6" cy="616.7" r="6.6"/>
<circle cx="503.6" cy="620.4" r="6.6"/>
<circle cx="503.6" cy="647.4" r="6.6"/>
<circle cx="503.6" cy="656.0" r="6.6"/>
<circle cx="562.4" cy="677.4" r="6.6"/>
<circle cx="562.4" cy="689.9" r="6.6"/>
<circle cx="562.4" cy="694.0" r="6.6"/>
<circle cx="562.4" cy="700.3" r="6.6"/>
<circle cx="562.4" cy="716.9" r="6.6"/>
<circle cx="562.4" cy="724.2" r="6.6"/>
<circle cx="562.4" cy="730.4" r="6.6"/>
<circle cx="593.6" cy="693.0" r="6.6"/>
<circle cx="593.6" cy="706.5" r="6.6"/>
<circle cx="593.6" cy="728.3" r="6.6"/>
<circle cx="587.4" cy="653.5" r="6.6"/>
<circle cx="587.4" cy="671.2" r="6.6"/>
<circle cx="587.4" cy="679.5" r="6.6"/>
<circle cx="587.4" cy="687.8" r="6.6"/>
<circle cx="587.4" cy="702.4" r="6.6"/>
<circle cx="587.4" cy="716.9" r="6.6"/>
<circle cx="587.4" cy="728.3" r="6.6"/>
<circle cx="587.4" cy="735.6" r="6.6"/>
<circle cx="590.9" cy="764.7" r="6.6"/>
<circle cx="590.9" cy="780.3" r="6.6"/>
<circle cx="603.8" cy="691.5" r="6.6"/>
<circle cx="603.8" cy="706.1" r="6.6"/>
<circle cx="603.8" cy="714.8" r="6.6"/>
<circle cx="616.9" cy="777.2" r="6.6"/>
<circle cx="616.9" cy="799.0" r="6.6"/>
<circle cx="616.9" cy="822.5" r="6.6"/>
<circle cx="658.5" cy="703.6" r="6.6"/>
<circle cx="658.5" cy="714.7" r="6.6"/>
<circle cx="658.5" cy="722.3" r="6.6"/>
<circle cx="658.5" cy="734.6" r="6.6"/>
<circle cx="658.5" cy="741.9" r="6.6"/>
<circle cx="658.5" cy="751.2" r="6.6"/>
<circle cx="658.7" cy="775.9" r="6.6"/>
<circle cx="665.8" cy="761.6" r="6.6"/>
<circle cx="665.8" cy="785.5" r="6.6"/>
<circle cx="665.8" cy="798.0" r="6.6"/>
<circle cx="665.8" cy="820.8" r="6.6"/>
<circle cx="668.5" cy="665.0" r="6.6"/>
<circle cx="668.5" cy="693.6" r="6.6"/>
<circle cx="669.9" cy="721.1" r="6.6"/>
<circle cx="669.9" cy="733.5" r="6.6"/>
<circle cx="675.1" cy="719.0" r="6.6"/>
<circle cx="675.1" cy="741.9" r="6.6"/>
<circle cx="675.1" cy="751.2" r="6.6"/>
<circle cx="675.1" cy="769.9" r="6.6"/>
<circle cx="683.4" cy="682.6" r="6.6"/>
<circle cx="683.4" cy="693.6" r="6.6"/>
<circle cx="683.4" cy="708.6" r="6.6"/>
<circle cx="685.1" cy="741.9" r="6.6"/>
<circle cx="685.9" cy="747.0" r="6.6"/>
<circle cx="685.9" cy="757.2" r="6.6"/>
<circle cx="685.9" cy="764.8" r="6.6"/>
<circle cx="685.5" cy="779.3" r="6.6"/>
<circle cx="685.5" cy="787.6" r="6.6"/>
<circle cx="685.5" cy="804.2" r="6.6"/>
<circle cx="685.5" cy="817.7" r="6.6"/>
<circle cx="692.8" cy="730.4" r="6.6"/>
<circle cx="693.8" cy="751.2" r="6.6"/>
<circle cx="694.9" cy="759.5" r="6.6"/>
<circle cx="706.3" cy="760.6" r="6.6"/>
<circle cx="706.3" cy="780.3" r="6.6"/>
<circle cx="706.3" cy="793.8" r="6.6"/>
<circle cx="706.3" cy="810.4" r="6.6"/>
<circle cx="706.3" cy="818.6" r="6.6"/>
<circle cx="706.3" cy="827.5" r="6.6"/>
<circle cx="706.3" cy="844.7" r="6.6"/>
<circle cx="706.5" cy="866.3" r="6.6"/>
<circle cx="720.8" cy="686.7" r="6.6"/>
<circle cx="722.4" cy="706.9" r="6.6"/>
<circle cx="724.0" cy="724.3" r="6.6"/>
<circle cx="724.4" cy="734.5" r="6.6"/>
<circle cx="726.0" cy="744.7" r="6.6"/>
<circle cx="716.6" cy="722.0" r="6.6"/>
<circle cx="716.6" cy="733.5" r="6.6"/>
<circle cx="716.6" cy="742.8" r="6.6"/>
<circle cx="716.6" cy="752.6" r="6.6"/>
<circle cx="722.4" cy="777.1" r="6.6"/>
<circle cx="722.4" cy="834.2" r="6.6"/>
<circle cx="736.3" cy="664.9" r="6.6"/>
<circle cx="729.1" cy="660.8" r="6.6"/>
<circle cx="729.1" cy="671.2" r="6.6"/>
<circle cx="729.1" cy="675.3" r="6.6"/>
<circle cx="736.3" cy="679.5" r="6.6"/>
<circle cx="736.3" cy="685.7" r="6.6"/>
<circle cx="736.3" cy="694.0" r="6.6"/>
<circle cx="736.3" cy="700.2" r="6.6"/>
<circle cx="736.3" cy="706.5" r="6.6"/>
<circle cx="736.3" cy="711.7" r="6.6"/>
<circle cx="736.3" cy="717.9" r="6.6"/>
<circle cx="736.3" cy="735.5" r="6.6"/>
<circle cx="736.3" cy="739.7" r="6.6"/>
<circle cx="736.3" cy="762.5" r="6.6"/>
<circle cx="736.3" cy="797.8" r="6.6"/>
<circle cx="736.3" cy="818.6" r="6.6"/>
<circle cx="736.3" cy="831.1" r="6.6"/>
<circle cx="761.3" cy="659.7" r="6.6"/>
<circle cx="761.3" cy="672.2" r="6.6"/>
<circle cx="802.3" cy="631.6" r="6.6"/>
<circle cx="802.3" cy="644.0" r="6.6"/>
<circle cx="802.3" cy="671.0" r="6.6"/>
<circle cx="801.8" cy="704.8" r="6.6"/>
<circle cx="801.8" cy="721.0" r="6.6"/>
<circle cx="822.6" cy="713.6" r="6.6"/>
<circle cx="822.6" cy="740.7" r="6.6"/>
<circle cx="822.6" cy="761.8" r="6.6"/>
<circle cx="822.6" cy="770.4" r="6.6"/>
<circle cx="835.9" cy="712.2" r="6.6"/>
<circle cx="842.5" cy="706.3" r="6.6"/>
<circle cx="848.4" cy="704.3" r="6.6"/>
<circle cx="842.5" cy="720.8" r="6.6"/>
<circle cx="848.4" cy="715.5" r="6.6"/>
<circle cx="841.8" cy="728.8" r="6.6"/>
<circle cx="848.4" cy="727.4" r="6.6"/>
<circle cx="835.9" cy="751.2" r="6.6"/>
<circle cx="843.8" cy="753.9" r="6.6"/>
<circle cx="835.9" cy="764.5" r="6.6"/>
<circle cx="836.0" cy="807.8" r="6.6"/>
<circle cx="874.6" cy="702.0" r="6.6"/>
<circle cx="874.6" cy="711.9" r="6.6"/>
<circle cx="874.6" cy="727.0" r="6.6"/>
<circle cx="888.0" cy="670.0" r="6.6"/>
<circle cx="890.5" cy="678.0" r="6.6"/>
<circle cx="885.5" cy="684.0" r="6.6"/>
<circle cx="890.2" cy="693.0" r="6.6"/>
<circle cx="885.5" cy="701.5" r="6.6"/>
<circle cx="890.2" cy="703.4" r="6.6"/>
<circle cx="885.5" cy="713.8" r="6.6"/>
<circle cx="889.2" cy="721.3" r="6.6"/>
<circle cx="884.0" cy="731.7" r="6.6"/>
<circle cx="884.0" cy="739.2" r="6.6"/>
<circle cx="887.8" cy="754.3" r="6.6"/>
<circle cx="884.8" cy="781.0" r="6.6"/>
</g>
<line x1="11" y1="352.3" x2="895" y2="352.3" stroke="#231F20" stroke-width="2"/>
<line x1="147.0" y1="42.2" x2="147.0" y2="994" stroke="#231F20" stroke-width="1.35" stroke-dasharray="15.9,5.35"/>
<line x1="553.8" y1="42.2" x2="553.8" y2="994" stroke="#231F20" stroke-width="1.35" stroke-dasharray="15.9,5.35"/>
<g stroke="#1E9FD8" stroke-width="1.6" fill="none"><line x1="862" y1="695.7" x2="862" y2="734"/><line x1="857.3" y1="695.7" x2="866.7" y2="695.7"/><line x1="857.3" y1="734" x2="866.7" y2="734"/></g>
<line x1="856.5" y1="716.8" x2="867" y2="717.6" stroke="#D3222E" stroke-width="2.6"/>
<text x="373.37" y="466.40" font-size="23.00" fill="#2399CF" stroke="#2399CF" stroke-width="0.3" font-weight="normal" font-family="'Liberation Sans', Arial, Helvetica, sans-serif" textLength="128.85" lengthAdjust="spacingAndGlyphs">Mean value</text>
<line x1="435" y1="478" x2="436.5" y2="538.5" stroke="#D3222E" stroke-width="2.5"/>
<polyline points="430.3,529.5 436.6,539.4 442.9,528.9" fill="none" stroke="#D3222E" stroke-width="2.5"/>
<g stroke="#1E9FD8" stroke-width="2" fill="none"><line x1="668.8" y1="577.5" x2="668.8" y2="601.5"/><line x1="665" y1="577.5" x2="672.6" y2="577.5"/><line x1="665" y1="601.5" x2="672.6" y2="601.5"/></g>
<text x="689.38" y="600.10" font-size="22.70" fill="#2399CF" stroke="#2399CF" stroke-width="0.3" font-weight="normal" font-family="'Liberation Sans', Arial, Helvetica, sans-serif" textLength="180.82" lengthAdjust="spacingAndGlyphs">Measured result</text>
<rect x="214.8" y="854.2" width="256.7" height="99" fill="#ffffff" stroke="#29ABE2" stroke-width="1.8"/>
<rect x="266.5" y="852.8" width="57" height="2.8" fill="#ffffff"/>
<path d="M324.2,854.2 L151,812.4 L265.8,854.2" fill="none" stroke="#29ABE2" stroke-width="1.6" stroke-linejoin="miter"/>
<text x="244.00" y="882.70" font-size="21.20" fill="#2399CF" stroke="#2399CF" stroke-width="0.3" font-weight="normal" font-family="'Liberation Sans', Arial, Helvetica, sans-serif" textLength="198.00" lengthAdjust="spacingAndGlyphs">transformation of</text>
<text x="231.98" y="905.70" font-size="21.20" fill="#2399CF" stroke="#2399CF" stroke-width="0.3" font-weight="normal" font-family="'Liberation Sans', Arial, Helvetica, sans-serif" textLength="221.03" lengthAdjust="spacingAndGlyphs">mechanism of CO2</text>
<text x="239.00" y="928.70" font-size="21.20" fill="#2399CF" stroke="#2399CF" stroke-width="0.3" font-weight="normal" font-family="'Liberation Sans', Arial, Helvetica, sans-serif" textLength="207.00" lengthAdjust="spacingAndGlyphs">emission at 55 Ma</text>
<rect x="613" y="924.7" width="235.2" height="54.3" fill="#ffffff" stroke="#29ABE2" stroke-width="1.8"/>
<rect x="657.5" y="923.3" width="55" height="2.8" fill="#ffffff"/>
<path d="M713,924.7 L552,901.3 L656.8,924.7" fill="none" stroke="#29ABE2" stroke-width="1.6" stroke-linejoin="miter"/>
<text x="623.80" y="947.50" font-size="18.30" fill="#2399CF" stroke="#2399CF" stroke-width="0.3" font-weight="normal" font-family="'Liberation Sans', Arial, Helvetica, sans-serif" textLength="220.41" lengthAdjust="spacingAndGlyphs">transformation of carbon</text>
<text x="656.19" y="967.80" font-size="18.30" fill="#2399CF" stroke="#2399CF" stroke-width="0.3" font-weight="normal" font-family="'Liberation Sans', Arial, Helvetica, sans-serif" textLength="159.81" lengthAdjust="spacingAndGlyphs">reservoir at 25 Ma</text>
<text x="128.90" y="979.00" font-size="33.00" fill="#231F20" stroke="#231F20" stroke-width="0.3" font-weight="bold" font-family="'Liberation Serif', 'Times New Roman', serif" textLength="13.25" lengthAdjust="spacingAndGlyphs">I</text>
<text x="520.76" y="979.00" font-size="33.30" fill="#231F20" stroke="#231F20" stroke-width="0.3" font-weight="bold" font-family="'Liberation Serif', 'Times New Roman', serif" textLength="26.47" lengthAdjust="spacingAndGlyphs">II</text>
</svg>
</body></html>
